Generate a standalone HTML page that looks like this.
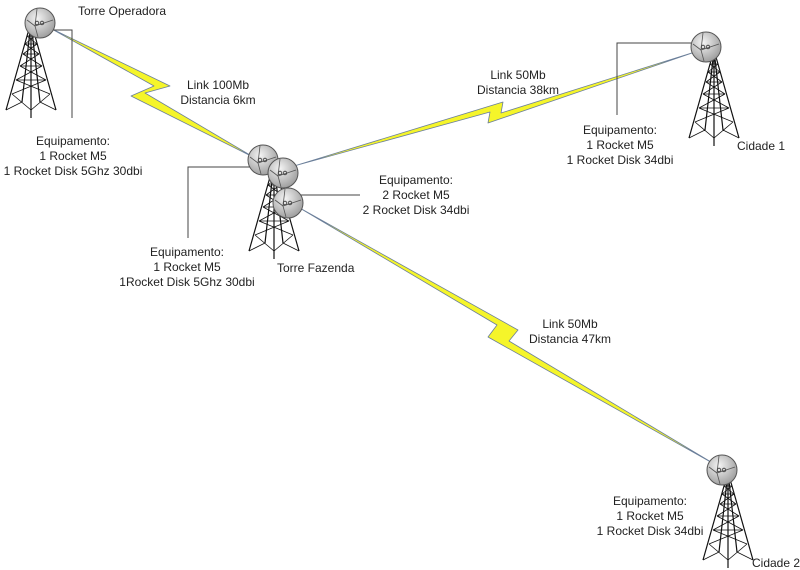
<!DOCTYPE html>
<html><head><meta charset="utf-8"><style>
html,body{margin:0;padding:0;background:#fff;}
svg{display:block;}
text{font-family:"Liberation Sans",sans-serif;font-size:12px;fill:#222;}
</style></head><body>
<svg width="800" height="570" viewBox="0 0 800 570" xmlns="http://www.w3.org/2000/svg">
<defs>
<radialGradient id="dg" cx="0.4" cy="0.35" r="0.7">
<stop offset="0" stop-color="#f4f4f4"/><stop offset="1" stop-color="#9a9a9a"/>
</radialGradient>
<g id="tower" stroke="#111" stroke-width="1.2" fill="none">
<path d="M0,0 L-25,88 M0,0 L25,88 M0,0 L0,96 M0,0 L-9,80 M0,0 L9,80"/>
<path stroke-width="0.8" d="M-4,14 L6,22 M4,14 L-6,22 M-6,22 L8,32 M6,22 L-8,32 M-8,32 L11,44 M8,32 L-11,44 M-11,44 L15,58 M11,44 L-15,58 M-15,58 L19,72 M15,58 L-19,72 M-19,72 L0,88 L19,72 M-9,80 L-25,88 M9,80 L25,88 M-4,14 L4,14 M-6,22 L6,22 M-8,32 L8,32 M-11,44 L11,44 M-15,58 L15,58"/>
</g>
<g id="dish">
<circle r="15" fill="url(#dg)" stroke="#555" stroke-width="1"/>
<path d="M-3,-14 L-5,3 L13,-3 M-5,3 L-2,14 M-13,-3 L-5,3" stroke="#555" stroke-width="0.8" fill="none"/>
<circle cx="-3" cy="0" r="1.8" fill="none" stroke="#333" stroke-width="0.8"/>
<circle cx="2" cy="0" r="1.8" fill="none" stroke="#333" stroke-width="0.8"/>
</g>
</defs>

<!-- links -->
<g fill="#f5f52a" stroke="#6b7f9a" stroke-width="0.8" stroke-linejoin="round">
<polygon points="50,28 170,86 145,93 255,158 131,96 154,86"/>
<polygon points="294,166 503,102 501,113 698,51 488,123 490,112"/>
<polygon points="298,207 518,330 509,341 716,465 488,337 497,325"/>
</g>

<!-- callout lines -->
<g stroke="#444" stroke-width="1" fill="none">
<polyline points="50,30 72,30 72,118"/>
<polyline points="252,167 188,167 188,238"/>
<line x1="300" y1="195" x2="360" y2="195"/>
<polyline points="700,43 617,43 617,115"/>
</g>

<!-- towers -->
<use href="#tower" x="31" y="22"/>
<use href="#tower" x="274" y="163"/>
<use href="#tower" x="714" y="50"/>
<use href="#tower" x="728" y="472"/>

<!-- dishes -->
<use href="#dish" x="40" y="23"/>
<use href="#dish" x="263" y="160"/>
<use href="#dish" x="283" y="173"/>
<use href="#dish" x="288" y="203"/>
<use href="#dish" x="706" y="47"/>
<use href="#dish" x="722" y="470"/>

<!-- labels -->
<text x="78" y="15">Torre Operadora</text>
<g text-anchor="middle">
<text x="218" y="89">Link 100Mb</text>
<text x="218" y="104">Distancia 6km</text>
<text x="518" y="79">Link 50Mb</text>
<text x="518" y="94">Distancia 38km</text>
<text x="570" y="328">Link 50Mb</text>
<text x="570" y="343">Distancia 47km</text>
<text x="73" y="145">Equipamento:</text>
<text x="73" y="160">1 Rocket M5</text>
<text x="73" y="175">1 Rocket Disk 5Ghz 30dbi</text>
<text x="187" y="256">Equipamento:</text>
<text x="187" y="271">1 Rocket M5</text>
<text x="187" y="286">1Rocket Disk 5Ghz 30dbi</text>
<text x="416" y="184">Equipamento:</text>
<text x="416" y="199">2 Rocket M5</text>
<text x="416" y="214">2 Rocket Disk 34dbi</text>
<text x="620" y="134">Equipamento:</text>
<text x="620" y="149">1 Rocket M5</text>
<text x="620" y="164">1 Rocket Disk 34dbi</text>
<text x="650" y="505">Equipamento:</text>
<text x="650" y="520">1 Rocket M5</text>
<text x="650" y="535">1 Rocket Disk 34dbi</text>
</g>
<text x="277" y="272">Torre Fazenda</text>
<text x="737" y="150">Cidade 1</text>
<text x="752" y="567">Cidade 2</text>
</svg>
</body></html>
